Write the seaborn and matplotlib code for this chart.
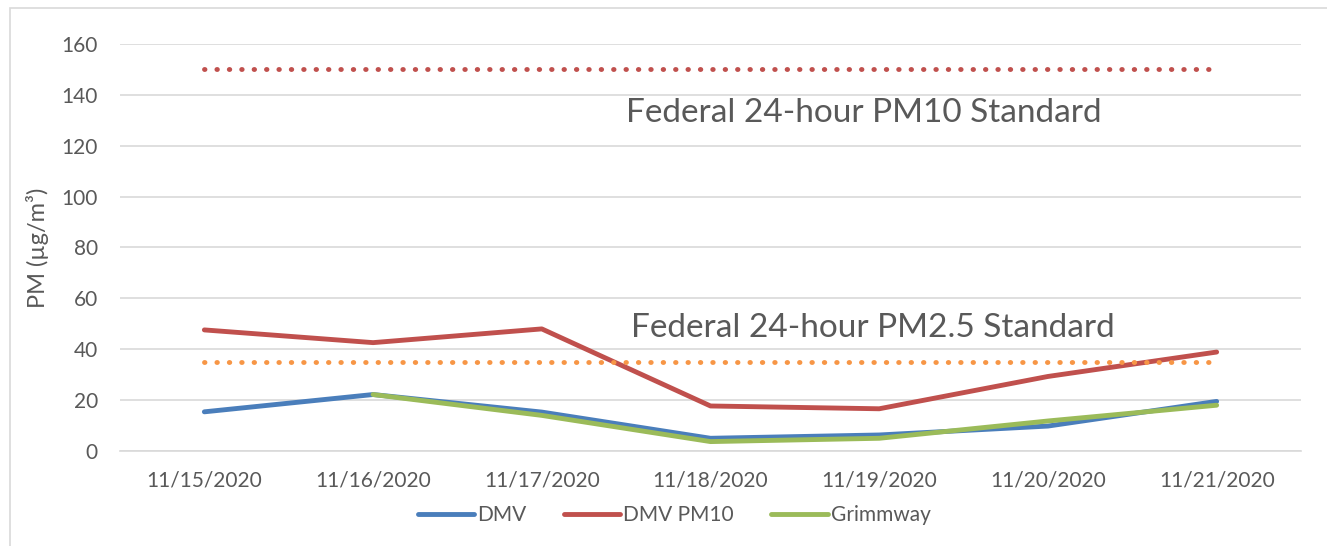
import matplotlib.pyplot as plt
import matplotlib.patches as mpatches
from matplotlib.lines import Line2D
import numpy as np
import pandas as pd
import seaborn as sns

# data
dates = ["11/15/2020", "11/16/2020", "11/17/2020", "11/18/2020",
         "11/19/2020", "11/20/2020", "11/21/2020"]
dmv = [15.4, 22.2, 15.3, 5.0, 6.3, 9.8, 19.5]
dmv_pm10 = [47.6, 42.6, 48.0, 17.7, 16.6, 29.3, 38.9]
grimmway = [np.nan, 22.2, 14.0, 3.7, 5.0, 11.8, 18.0]
series_names = ["DMV", "DMV PM10", "Grimmway"]
series_colors = ["#4A7EBB", "#C0504D", "#9BBB59"]
pm10_standard = 150
pm25_standard = 35
yticks = [0, 20, 40, 60, 80, 100, 120, 140, 160]

sns.set_style("white")
plt.rcParams['font.family'] = ['Lato', 'DejaVu Sans']
text_gray = "#595959"
grid_gray = "#D9D9D9"

df = pd.DataFrame({
    "date": dates * 3,
    "pm": dmv + dmv_pm10 + grimmway,
    "series": [n for n in series_names for _ in dates],
})

fig = plt.figure(figsize=(13.27, 5.46), dpi=100)
ax = fig.add_axes([120 / 1327, 95 / 546, 1181 / 1327, 407 / 546])

# light frame round the chart area
fig.patches.append(mpatches.Rectangle((10 / 1327, -0.1), 1.2, 1.1 - 8 / 546,
                                      transform=fig.transFigure, fill=False,
                                      edgecolor=grid_gray, linewidth=1.2))

sns.lineplot(data=df, x="date", y="pm", hue="series", palette=series_colors,
             linewidth=3.5, sort=False, ax=ax, legend=False,
             solid_capstyle="round")

dot_style = (0, (0.1, 2.45))
sns.lineplot(x=dates, y=[pm10_standard] * len(dates), color="#C0504D",
             linewidth=3.5, linestyle=dot_style, dash_capstyle="round", ax=ax)
sns.lineplot(x=dates, y=[pm25_standard] * len(dates), color="#F79646",
             linewidth=3.5, linestyle=dot_style, dash_capstyle="round", ax=ax)

ax.text(3.91, 133, "Federal 24-hour PM10 Standard", ha="center", va="center",
        fontsize=24, color=text_gray)
ax.text(3.96, 48.5, "Federal 24-hour PM2.5 Standard", ha="center", va="center",
        fontsize=24, color=text_gray)

ax.set_ylim(0, 160)
ax.set_xlim(-0.5, len(dates) - 0.5)
ax.set_yticks(yticks)
ax.yaxis.grid(True, color=grid_gray, linewidth=1.2)
ax.set_axisbelow(True)
for s in ["top", "right", "left"]:
    ax.spines[s].set_visible(False)
ax.spines["bottom"].set_color(grid_gray)
ax.spines["bottom"].set_linewidth(1.2)

ax.set_xticks(np.arange(-0.5, len(dates)), minor=True)
ax.tick_params(axis="x", which="minor", length=5, color=grid_gray, width=1.2)
ax.tick_params(axis="x", which="major", length=0, pad=14, labelsize=15,
               labelcolor=text_gray)
ax.tick_params(axis="y", length=0, pad=16, labelsize=15, labelcolor=text_gray)
ax.set_xlabel("")
ax.set_ylabel("PM (µg/m³)", fontsize=17, color=text_gray, labelpad=9)

handles = [Line2D([], [], color=c, linewidth=3.5, solid_capstyle="round")
           for c in series_colors]
fig.legend(handles, series_names, loc="center", bbox_to_anchor=(0.508, 0.057),
           ncol=3, frameon=False, fontsize=15, handlelength=2.7,
           handletextpad=0.15, columnspacing=1.8, labelcolor=text_gray)

fig.savefig("out.png", dpi=100)
